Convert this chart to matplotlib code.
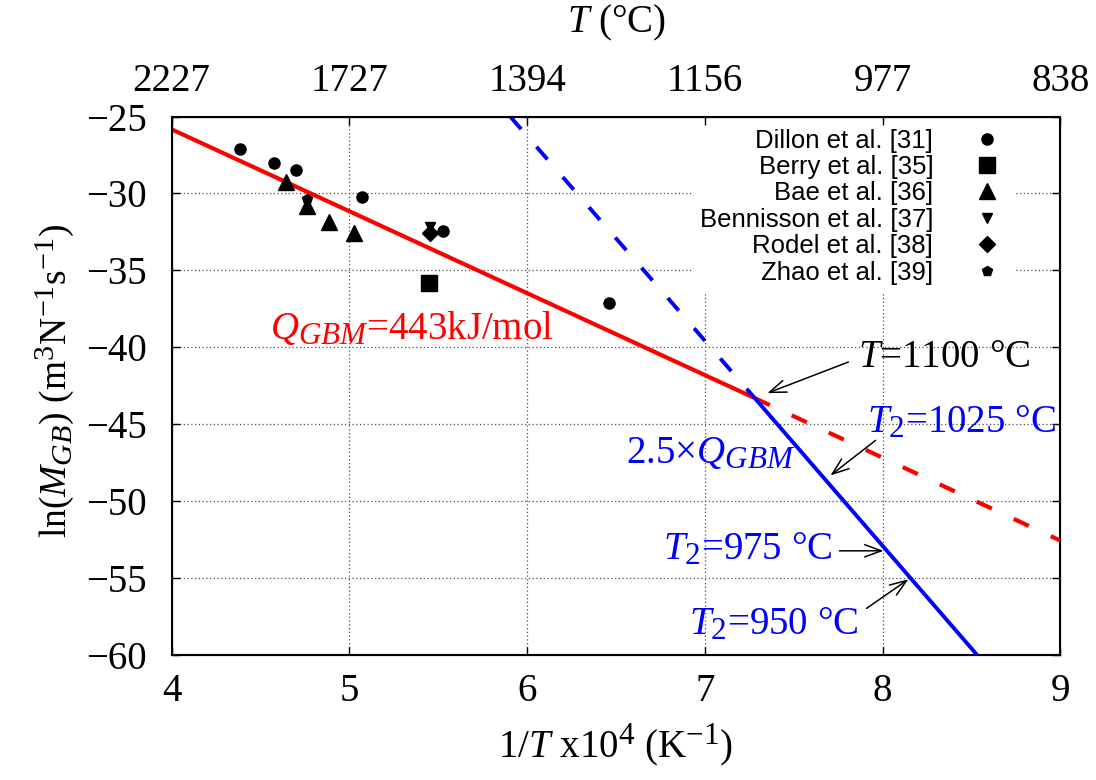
import matplotlib
matplotlib.use('Agg')
import matplotlib.pyplot as plt
import matplotlib._mathtext as mathtext_internal

# gnuplot style sub/superscripts are a bit bigger than matplotlib's default
mathtext_internal.SHRINK_FACTOR = 0.8

plt.rcParams['font.family'] = ['Liberation Serif', 'DejaVu Serif']
plt.rcParams['mathtext.fontset'] = 'custom'
plt.rcParams['mathtext.rm'] = 'Liberation Serif'
plt.rcParams['mathtext.it'] = 'Liberation Serif:italic'
plt.rcParams['mathtext.bf'] = 'Liberation Serif:bold'

# Literature data, 1/T x10^4 (K^-1) vs ln(M_GB)
dillon_x = [4.385, 4.578, 4.699, 5.074, 5.526, 6.458]
dillon_y = [-27.09, -28.05, -28.48, -30.2, -32.46, -37.13]
berry_x = [5.449]
berry_y = [-35.85]
bae_x = [4.643, 4.761, 4.886, 5.025]
bae_y = [-29.27, -30.79, -31.85, -32.57]
bennisson_x = [5.455]
bennisson_y = [-32.18]
rodel_x = [5.451]
rodel_y = [-32.57]
zhao_x = [4.761]
zhao_y = [-30.39]

# fitted lines (end points)
red_solid_x = [4.0, 7.28]
red_solid_y = [-25.83, -43.3]
red_dash_x = [7.28, 9.0]
red_dash_y = [-43.3, -52.57]
blue_dash_x = [5.905, 7.28]
blue_dash_y = [-25.0, -43.3]
blue_solid_x = [7.28, 8.531]
blue_solid_y = [-43.3, -60.0]

x_ticks = [4, 5, 6, 7, 8, 9]
top_labels = ['2227', '1727', '1394', '1156', '977', '838']
y_ticks = [-25, -30, -35, -40, -45, -50, -55, -60]

FS = 28

fig = plt.figure(figsize=(10.96, 7.8), dpi=100)
ax = fig.add_axes([0.1565, 0.1603, 0.8111, 0.6903])

ax.plot(red_solid_x, red_solid_y, color='red', lw=3, solid_capstyle='butt', zorder=3)
ax.plot(red_dash_x, red_dash_y, color='red', lw=3, dashes=[4, 5.8], zorder=3)
ax.plot(blue_dash_x, blue_dash_y, color='blue', lw=2.8, dashes=[4.3, 6], zorder=3)
ax.plot(blue_solid_x, blue_solid_y, color='blue', lw=2.8, solid_capstyle='butt', zorder=3)

ax.plot(dillon_x, dillon_y, ls='none', marker='o', ms=8, color='black', label='Dillon et al. [31]', zorder=4)
ax.plot(berry_x, berry_y, ls='none', marker='s', ms=12, color='black', label='Berry et al. [35]', zorder=4)
ax.plot(bae_x, bae_y, ls='none', marker='^', ms=11, color='black', label='Bae et al. [36]', zorder=4)
ax.plot(bennisson_x, bennisson_y, ls='none', marker='v', ms=7, color='black', label='Bennisson et al. [37]', zorder=4)
ax.plot(rodel_x, rodel_y, ls='none', marker='D', ms=8, color='black', label='Rodel et al. [38]', zorder=4)
ax.plot(zhao_x, zhao_y, ls='none', marker='p', ms=7, color='black', label='Zhao et al. [39]', zorder=4)

ax.set_xlim(4, 9)
ax.set_ylim(-60, -25)
ax.set_xticks(x_ticks)
ax.set_yticks(y_ticks)
ax.grid(True, color='0.3', linestyle=(0, (1, 2)), lw=0.9)
ax.set_axisbelow(True)
ax.tick_params(axis='both', direction='in', length=6, width=1, labelsize=FS,
               top=False, right=True)
ax.tick_params(axis='x', pad=13)
ax.tick_params(axis='y', pad=18)
for s in ax.spines.values():
    s.set_linewidth(1.5)

ax.set_xlabel(r'1/$T$ x10$^4$ (K$^{-1}$)', fontsize=FS, labelpad=8)
ax.set_ylabel(r'ln($M_{GB}$) (m$^3$N$^{-1}$s$^{-1}$)', fontsize=27)
ax.yaxis.set_label_coords(-0.108, 0.51)

top = ax.twiny()
top.set_xlim(ax.get_xlim())
top.set_xticks(x_ticks)
top.set_xticklabels(top_labels)
top.tick_params(axis='x', direction='in', length=6, width=1, labelsize=FS, pad=12)
top.set_xlabel(r'$T$ (°C)', fontsize=FS, labelpad=22)

leg = ax.legend(loc='upper right', bbox_to_anchor=(0.948, 0.992), markerfirst=False,
                numpoints=1, handlelength=1.5, handletextpad=1.35, labelspacing=0.095,
                borderpad=0.3, borderaxespad=0.0, frameon=True, fancybox=False,
                prop={'family': 'Liberation Sans', 'size': 18.5})
leg.get_frame().set_facecolor('white')
leg.get_frame().set_edgecolor('none')
leg.get_frame().set_alpha(1.0)

# annotations
ax.text(4.554, -39.46, r'$Q_{GBM}$=443kJ/mol', color='red', fontsize=FS, va='baseline')
ax.text(6.558, -47.55, r'2.5×$Q_{GBM}$', color='blue', fontsize=FS, va='baseline')
ax.text(7.863, -41.29, r'$T$=1100 °C', color='black', fontsize=FS, va='baseline')
ax.text(7.914, -45.53, r'$T_2$=1025 °C', color='blue', fontsize=FS, va='baseline')
ax.text(6.766, -53.75, r'$T_2$=975 °C', color='blue', fontsize=FS, va='baseline')
ax.text(6.912, -58.64, r'$T_2$=950 °C', color='blue', fontsize=FS, va='baseline')

arrow_kw = dict(arrowstyle='->,head_length=0.6,head_width=0.22', lw=1.1, color='black',
                shrinkA=0, shrinkB=0, mutation_scale=20)
ax.annotate('', xy=(7.351, -42.98), xytext=(7.807, -40.96), arrowprops=arrow_kw)
ax.annotate('', xy=(7.706, -48.33), xytext=(7.96, -46.05), arrowprops=arrow_kw)
ax.annotate('', xy=(8.005, -53.23), xytext=(7.757, -53.23), arrowprops=arrow_kw)
ax.annotate('', xy=(8.145, -55.08), xytext=(7.909, -56.97), arrowprops=arrow_kw)

fig.savefig('out.png', dpi=100)
